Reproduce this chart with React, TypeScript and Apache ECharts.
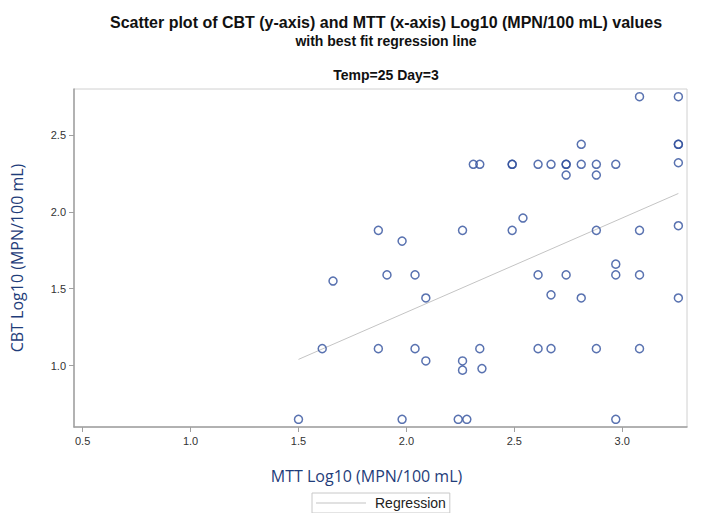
import React, { useEffect, useRef } from "react";
import * as echarts from "echarts";

const mttX = [
  3.08, 3.26, 2.81, 3.26, 3.26, 2.31, 2.34, 2.49, 2.49, 2.61, 2.67, 2.74, 2.74, 2.81, 2.88, 2.97, 3.26, 2.74, 2.88,
  1.87, 1.98, 2.26, 2.49, 2.54, 2.88, 3.08, 3.26, 1.91, 2.04, 2.61, 2.74, 2.97, 3.08, 2.97, 2.09, 2.67, 2.81, 3.26,
  1.87, 2.04, 2.09, 2.26, 2.26, 2.34, 2.35, 2.61, 2.67, 2.88, 3.08, 1.98, 2.24, 2.28, 2.97, 1.66, 1.61, 1.5,
];
const cbtY = [
  2.75, 2.75, 2.44, 2.44, 2.44, 2.31, 2.31, 2.31, 2.31, 2.31, 2.31, 2.31, 2.31, 2.31, 2.31, 2.31, 2.32, 2.24, 2.24,
  1.88, 1.81, 1.88, 1.88, 1.96, 1.88, 1.88, 1.91, 1.59, 1.59, 1.59, 1.59, 1.59, 1.59, 1.66, 1.44, 1.46, 1.44, 1.44,
  1.11, 1.11, 1.03, 1.03, 0.97, 1.11, 0.98, 1.11, 1.11, 1.11, 1.11, 0.65, 0.65, 0.65, 0.65, 1.55, 1.11, 0.65,
];
const regX = [1.5, 3.26];
const regY = [1.04, 2.12];
const xTicks = [0.5, 1.0, 1.5, 2.0, 2.5, 3.0];
const yTicks = [1.0, 1.5, 2.0, 2.5];

export default function App() {
  const ref = useRef<HTMLDivElement>(null);
  useEffect(() => {
    if (!ref.current) return;
    const chart = echarts.init(ref.current, null, { renderer: "svg" });
    const font = "'Liberation Sans', Arial, sans-serif";
    const labelFont = "'Open Sans', Lato, sans-serif";
    chart.setOption({
      animation: false,
      backgroundColor: "#fff",
      title: [
        {
          text: "Scatter plot of CBT (y-axis) and MTT (x-axis) Log10 (MPN/100 mL) values",
          left: 381,
          top: 9,
          textAlign: "center",
          textStyle: { fontFamily: font, fontSize: 16, fontWeight: "bold", color: "#111" },
        },
        {
          text: "with best fit regression line",
          left: 381,
          top: 29,
          textAlign: "center",
          textStyle: { fontFamily: font, fontSize: 14, fontWeight: "bold", color: "#111" },
        },
        {
          text: "Temp=25 Day=3",
          left: 381,
          top: 63,
          textAlign: "center",
          textStyle: { fontFamily: font, fontSize: 14, fontWeight: "bold", color: "#111" },
        },
      ],
      grid: { left: 74, top: 89, right: 15, bottom: 94, show: true, borderColor: "#d0d0d0", borderWidth: 1 },
      legend: {
        left: 312,
        top: 493,
        data: [{ name: "Regression", icon: "rect" }],
        borderColor: "#c8c8c8",
        borderWidth: 1,
        padding: [3, 4, 3, 4],
        itemWidth: 50,
        itemHeight: 1,
        itemStyle: { color: "#c4c4c4" },
        textStyle: { fontFamily: font, fontSize: 14, color: "#222", padding: [0, 0, 0, 4] },
      },
      xAxis: {
        type: "value",
        min: 0.46,
        max: 3.3,
        name: "MTT Log10 (MPN/100 mL)",
        nameLocation: "middle",
        nameGap: 41,
        nameTextStyle: { fontFamily: labelFont, fontSize: 16, color: "#1f3d7a", padding: [0, 28, 0, 0] },
        axisLine: { show: true, lineStyle: { color: "#a0a0a0", width: 1.5 } },
        axisTick: { show: true, customValues: xTicks, length: 5, lineStyle: { color: "#a0a0a0" } },
        axisLabel: {
          customValues: xTicks,
          formatter: (v: number) => v.toFixed(1),
          fontFamily: font,
          fontSize: 11,
          color: "#333",
          margin: 8,
        },
        splitLine: { show: false },
      },
      yAxis: {
        type: "value",
        min: 0.6,
        max: 2.8,
        name: "CBT Log10 (MPN/100 mL)",
        nameLocation: "middle",
        nameGap: 49,
        nameTextStyle: { fontFamily: labelFont, fontSize: 16, color: "#1f3d7a" },
        axisLine: { show: true, lineStyle: { color: "#a0a0a0", width: 1.5 } },
        axisTick: { show: true, customValues: yTicks, length: 5, lineStyle: { color: "#a0a0a0" } },
        axisLabel: {
          customValues: yTicks,
          formatter: (v: number) => v.toFixed(1),
          fontFamily: font,
          fontSize: 11,
          color: "#333",
          margin: 8,
        },
        splitLine: { show: false },
      },
      series: [
        {
          type: "scatter",
          name: "CBT",
          data: mttX.map((x, i) => [x, cbtY[i]]),
          symbol: "circle",
          symbolSize: 8,
          itemStyle: { color: "rgba(255,255,255,0)", borderColor: "#2f4f9c", borderWidth: 1.5 },
          z: 3,
        },
        {
          type: "line",
          name: "Regression",
          data: regX.map((x, i) => [x, regY[i]]),
          symbol: "none",
          lineStyle: { color: "#c4c4c4", width: 1 },
          itemStyle: { color: "#c4c4c4" },
          z: 2,
        },
      ],
    });
    return () => chart.dispose();
  }, []);
  return <div ref={ref} style={{ width: 702, height: 521, margin: -8 }} />;
}
